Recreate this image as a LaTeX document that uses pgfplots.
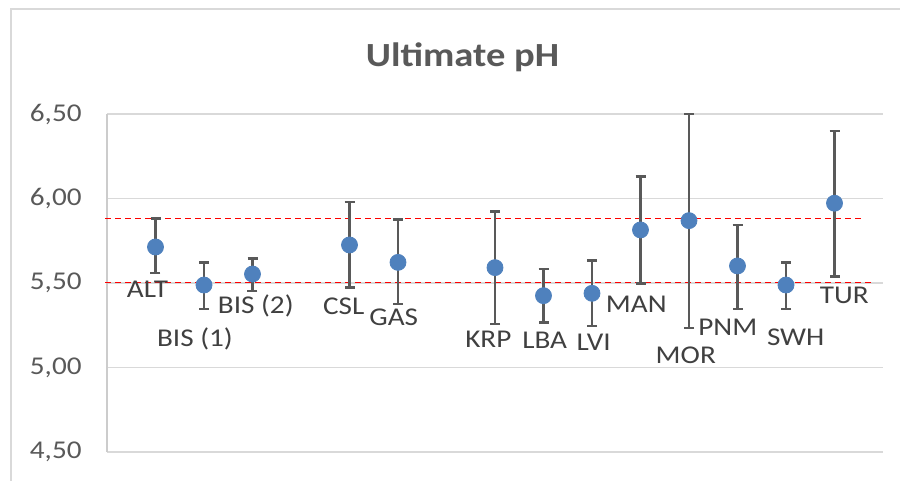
\documentclass[border=0pt]{standalone}
\usepackage{fontspec}
\setmainfont{Carlito}[FakeStretch=1.14]
\usepackage{pgfplots}
\pgfplotsset{compat=1.18}
\definecolor{gridgray}{HTML}{D9D9D9}
\definecolor{axgray}{HTML}{CCCCCC}
\definecolor{tickgray}{HTML}{595959}
\definecolor{labgray}{HTML}{404040}
\definecolor{ptblue}{HTML}{4F81BD}
\newcommand{\labfont}{\fontsize{12.8pt}{15pt}\selectfont}
\begin{document}
\begin{tikzpicture}
\path[use as bounding box] (0,0) rectangle (450pt,240.5pt);
\draw[gridgray, line width=1pt] (5.5pt,0) -- (5.5pt,235.75pt) -- (450pt,235.75pt);
\node[anchor=base, text=tickgray, font=\fontsize{16.9pt}{20pt}\selectfont\bfseries] at (231.25pt,207pt) {Ultimate pH};
\begin{axis}[
  at={(53.5pt,14.5pt)}, anchor=south west,
  scale only axis, width=388pt, height=169pt,
  xmin=0, xmax=16, ymin=4.5, ymax=6.5,
  xtick=\empty, ytick={4.5,5,5.5,6,6.5},
  axis x line=none, axis y line=left,
  y axis line style={-, draw=axgray, line width=0.9pt},
  major tick length=0pt,
  ymajorgrids, grid style={gridgray, line width=0.9pt},
  yticklabel style={text=tickgray, font=\labfont, inner sep=0pt, xshift=-12.5pt},
  /pgf/number format/.cd, fixed, fixed zerofill, precision=2, use comma, assume math mode=true,
  /pgfplots/.cd,
  clip=false,
]
\addplot[red, line width=0.6pt, dash pattern=on 3pt off 2pt] coordinates {(-0.04,5.88) (15.59,5.88)};
\addplot[red, line width=0.6pt, dash pattern=on 3pt off 2pt] coordinates {(-0.04,5.505) (15.77,5.505)};
\addplot[only marks, mark=*, mark size=4pt, mark options={draw=ptblue, fill=ptblue},
  error bars/.cd, y dir=both, y explicit,
  error bar style={tickgray, line width=1.3pt},
  error mark options={tickgray, line width=1.3pt, mark size=2.5pt, rotate=90}]
coordinates {
(1,5.713) += (0,0.167) -= (0,0.154)
(2,5.488) += (0,0.134) -= (0,0.142)
(3,5.553) += (0,0.093) -= (0,0.100)
(5,5.725) += (0,0.254) -= (0,0.253)
(6,5.622) += (0,0.255) -= (0,0.246)
(8,5.591) += (0,0.331) -= (0,0.334)
(9,5.425) += (0,0.158) -= (0,0.160)
(10,5.439) += (0,0.193) -= (0,0.193)
(11,5.814) += (0,0.315) -= (0,0.316)
(12,5.869) += (0,0.631) -= (0,0.635)
(13,5.601) += (0,0.242) -= (0,0.255)
(14,5.488) += (0,0.134) -= (0,0.142)
(15,5.972) += (0,0.427) -= (0,0.435)
};
\node[anchor=base, text=labgray, font=\labfont] at (axis cs:0.835,5.415) {ALT};
\node[anchor=base, text=labgray, font=\labfont] at (axis cs:1.814,5.123) {BIS (1)};
\node[anchor=base, text=labgray, font=\labfont] at (axis cs:3.068,5.321) {BIS (2)};
\node[anchor=base, text=labgray, font=\labfont] at (axis cs:4.882,5.311) {CSL};
\node[anchor=base, text=labgray, font=\labfont] at (axis cs:5.913,5.246) {GAS};
\node[anchor=base, text=labgray, font=\labfont] at (axis cs:7.862,5.117) {KRP};
\node[anchor=base, text=labgray, font=\labfont] at (axis cs:9.025,5.115) {LBA};
\node[anchor=base, text=labgray, font=\labfont] at (axis cs:10.035,5.101) {LVI};
\node[anchor=base, text=labgray, font=\labfont] at (axis cs:10.913,5.328) {MAN};
\node[anchor=base, text=labgray, font=\labfont] at (axis cs:11.934,5.025) {MOR};
\node[anchor=base, text=labgray, font=\labfont] at (axis cs:12.80,5.192) {PNM};
\node[anchor=base, text=labgray, font=\labfont] at (axis cs:14.20,5.133) {SWH};
\node[anchor=base, text=labgray, font=\labfont] at (axis cs:15.20,5.376) {TUR};
\end{axis}
\end{tikzpicture}
\end{document}
